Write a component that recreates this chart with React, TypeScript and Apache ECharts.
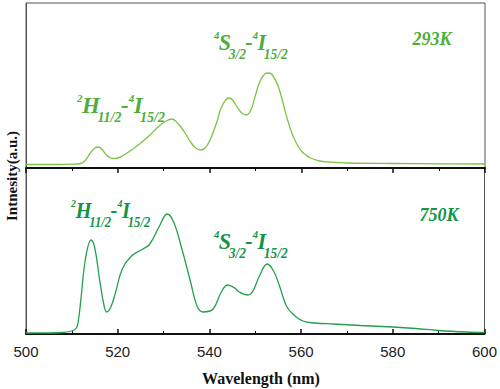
import React, { useEffect, useRef } from "react";
import * as echarts from "echarts";

// Wavelength (nm) and intensity (a.u.)
const wl293 = [500,505,510,512,513,514,515,515.8,516.5,517.5,518.5,519.5,521,523,525,527,529,530.5,531.8,533,534.5,536,537,538,539,540,541.5,542.5,543.5,544.2,545,546,547,548,549,550,551,552,552.8,553.7,555,556,557,558,559,560,561,562,564,566,570,580,590,600];
const int293 = [0.5,0.5,0.8,1.5,5,12,17,18,16,10,7,6.5,9,15,22,30,39,44,46,42,33,22,17,15,17,24,42,57,65,67,65,58,52,50,55,70,84,91,92,90,78,62,45,31,21,14,10,7,4,3,2,1.5,1.2,1];

const wl750 = [500,505,508,510,511,511.5,512,513,514.2,515,516,517,517.6,518.5,519.5,521,523,525.5,527,529,530.8,532.2,534,535.9,537.3,538.6,540.8,542.6,544,545.5,546.5,548.4,549.5,551,552.6,554,555.3,556.8,558.2,560.4,563,567,573,580,585,590,596,600];
const int750 = [0,0,0.5,2,5,15,35,75,93,85,55,28,21,26,40,64,77,84,89,106,119,111,84,51,27,21,24,41,48,45,41,38,42,58,69,62,47,27,19,12,10,9,7.5,6,4.5,2.5,1,0.5];

const xTicks = [500, 520, 540, 560, 580, 600];
const labelsTop = ["293K"];
const labelsBottom = ["750K"];
// transition labels: [text, kind] with s = superscript, m = main, b = subscript
const transH: [string, string][] = [["2", "s"], ["H", "m"], ["11/2", "b"], ["-", "m"], ["4", "s"], ["I", "m"], ["15/2", "b"]];
const transS: [string, string][] = [["4", "s"], ["S", "m"], ["3/2", "b"], ["-", "m"], ["4", "s"], ["I", "m"], ["15/2", "b"]];

const SERIF = "'Liberation Serif', 'Times New Roman', serif";
const TOP_LINE = "#7cc444";
const TOP_TEXT = "#4cae3c";
const BOT_LINE = "#22a04e";
const BOT_TEXT = "#139446";

const KIND: Record<string, { size: number; dy: number; gap: number }> = {
  s: { size: 11, dy: -7.5, gap: 0 },
  m: { size: 23, dy: 0, gap: -0.5 },
  b: { size: 14, dy: 12, gap: -2.5 },
};

let measureCtx: CanvasRenderingContext2D | null = null;
function measure(text: string, font: string) {
  if (!measureCtx) measureCtx = document.createElement("canvas").getContext("2d");
  if (!measureCtx) return text.length * 8;
  measureCtx.font = font;
  return measureCtx.measureText(text).width;
}

function annotation(pieces: [string, string][], x0: number, cy: number, color: string, sx: number) {
  const children: any[] = [];
  let x = 0;
  pieces.forEach(([t, k], i) => {
    const spec = KIND[k];
    const font = `italic bold ${spec.size}px ${SERIF}`;
    if (i > 0) x += spec.gap;
    children.push({
      type: "text",
      x,
      y: spec.dy,
      style: { text: t, font, fill: color, align: "left", verticalAlign: "middle" },
    });
    x += measure(t, font);
  });
  return { type: "group", x: x0, y: cy, scaleX: sx, children };
}

export default function App() {
  const ref = useRef<HTMLDivElement>(null);
  useEffect(() => {
    if (!ref.current) return;
    const chart = echarts.init(ref.current, undefined, { renderer: "svg" });
    const topData = wl293.map((w, i) => [w, int293[i]]);
    const botData = wl750.map((w, i) => [w, int750[i]]);
    const xBase = {
      type: "value",
      min: 500,
      max: 600,
      interval: 20,
      splitLine: { show: false },
      axisLine: { show: true, onZero: false, lineStyle: { color: "#111", width: 2 } },
    };
    chart.setOption({
      animation: false,
      backgroundColor: "#fff",
      grid: [
        { left: 26, right: 15, top: 3, height: 165, show: true, borderColor: "#555", borderWidth: 1 },
        { left: 26, right: 15, top: 168, height: 166, show: true, borderColor: "#555", borderWidth: 1 },
      ],
      xAxis: [
        {
          ...xBase,
          gridIndex: 0,
          axisLabel: { show: false },
          axisTick: { show: true, inside: false, length: 5, lineStyle: { color: "#111", width: 1.5 } },
          minorTick: { show: true, splitNumber: 2, length: 3, lineStyle: { color: "#111", width: 1 } },
        },
        {
          ...xBase,
          gridIndex: 1,
          axisLabel: {
            show: true,
            margin: 10,
            fontFamily: "'Liberation Sans', Arial, sans-serif",
            fontSize: 15,
            color: "#222",
            customValues: xTicks,
          },
          axisTick: { show: true, inside: true, length: 5, lineStyle: { color: "#111", width: 1.5 } },
          minorTick: { show: true, splitNumber: 2, length: 3, lineStyle: { color: "#111", width: 1 } },
        },
      ],
      yAxis: [
        { type: "value", gridIndex: 0, min: -3, max: 162, axisLabel: { show: false }, axisTick: { show: false }, splitLine: { show: false }, axisLine: { show: true, lineStyle: { color: "#555", width: 1 } } },
        { type: "value", gridIndex: 1, min: -1, max: 165, axisLabel: { show: false }, axisTick: { show: false }, splitLine: { show: false }, axisLine: { show: true, lineStyle: { color: "#555", width: 1 } } },
      ],
      series: [
        {
          type: "line",
          xAxisIndex: 0,
          yAxisIndex: 0,
          data: topData,
          smooth: 0.4,
          showSymbol: false,
          lineStyle: { color: TOP_LINE, width: 1.3 },
        },
        {
          type: "line",
          xAxisIndex: 1,
          yAxisIndex: 1,
          data: botData,
          smooth: 0.4,
          showSymbol: false,
          lineStyle: { color: BOT_LINE, width: 1.3 },
        },
      ],
      graphic: [
        annotation(transH, 77, 105, TOP_TEXT, 1.0),
        annotation(transS, 214, 42.5, TOP_TEXT, 0.96),
        annotation(transH, 71, 210.5, BOT_TEXT, 0.9),
        annotation(transS, 214, 241.5, BOT_TEXT, 0.96),
        {
          type: "text",
          x: 432,
          y: 39,
          style: { text: labelsTop[0], align: "center", verticalAlign: "middle", font: `italic bold 18px ${SERIF}`, fill: TOP_TEXT },
        },
        {
          type: "text",
          x: 439,
          y: 215,
          style: { text: labelsBottom[0], align: "center", verticalAlign: "middle", font: `italic bold 18px ${SERIF}`, fill: BOT_TEXT },
        },
        {
          type: "text",
          x: 12,
          y: 176,
          rotation: Math.PI / 2,
          style: { text: "Intnesity(a.u.)", align: "center", verticalAlign: "middle", font: `bold 15px ${SERIF}`, fill: "#111" },
        },
        {
          type: "text",
          x: 261,
          y: 378,
          style: { text: "Wavelength (nm)", align: "center", verticalAlign: "middle", font: `bold 16px ${SERIF}`, fill: "#111" },
        },
      ],
    });
    return () => chart.dispose();
  }, []);
  return <div ref={ref} style={{ width: 500, height: 389, position: "absolute", left: 0, top: 0 }} />;
}
